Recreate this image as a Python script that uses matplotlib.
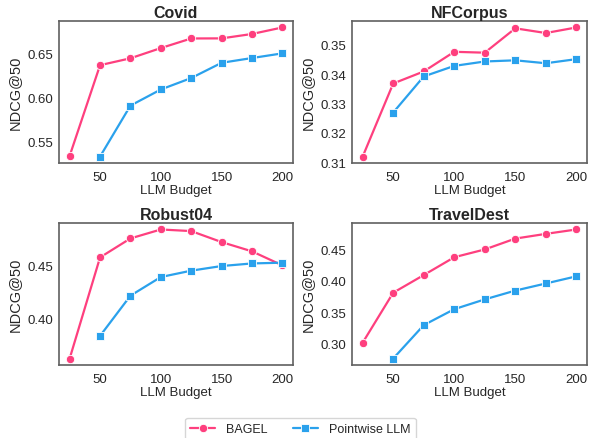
import matplotlib
matplotlib.use('Agg')
import matplotlib.pyplot as plt
import seaborn as sns

budgets_bagel = [25, 50, 75, 100, 125, 150, 175, 200]
budgets_pointwise = [50, 75, 100, 125, 150, 175, 200]

datasets = ['Covid', 'NFCorpus', 'Robust04', 'TravelDest']

bagel = {
    'Covid': [0.5337, 0.6366, 0.6444, 0.6560, 0.6669, 0.6670, 0.6720, 0.6794],
    'NFCorpus': [0.3119, 0.3368, 0.3409, 0.3476, 0.3473, 0.3556, 0.3540, 0.3559],
    'Robust04': [0.3633, 0.4571, 0.4747, 0.4830, 0.4815, 0.4713, 0.4627, 0.4497],
    'TravelDest': [0.3016, 0.3811, 0.4092, 0.4376, 0.4500, 0.4673, 0.4748, 0.4818],
}
pointwise = {
    'Covid': [0.5329, 0.5907, 0.6090, 0.6220, 0.6393, 0.6447, 0.6500],
    'NFCorpus': [0.3269, 0.3392, 0.3428, 0.3443, 0.3447, 0.3437, 0.3451],
    'Robust04': [0.3843, 0.4216, 0.4389, 0.4448, 0.4491, 0.4515, 0.4522],
    'TravelDest': [0.2763, 0.3295, 0.3549, 0.3705, 0.3845, 0.3958, 0.4072],
}

sns.set_style('white')
plt.rcParams['font.family'] = ['Liberation Sans', 'DejaVu Sans']
text_color = '#262626'

pink = '#fe3f7e'
blue = '#2aa1ec'

fig = plt.figure(figsize=(5.95, 4.39), dpi=100)
positions = [
    [0.0992, 0.6264, 0.3933, 0.3235],
    [0.5916, 0.6264, 0.3950, 0.3235],
    [0.0992, 0.1663, 0.3933, 0.3234],
    [0.5916, 0.1663, 0.3950, 0.3234],
]

for name, pos in zip(datasets, positions):
    ax = fig.add_axes(pos)
    ax.plot(budgets_bagel, bagel[name], color=pink, marker='o', markersize=6,
            markeredgecolor='white', markeredgewidth=0.6, linewidth=1.6, label='BAGEL')
    ax.plot(budgets_pointwise, pointwise[name], color=blue, marker='s', markersize=5.5,
            markeredgecolor='white', markeredgewidth=0.6, linewidth=1.6, label='Pointwise LLM')
    ax.set_title(name, fontsize=11.5, fontweight='bold', color=text_color, pad=3)
    ax.set_xlabel('LLM Budget', fontsize=9.5, color=text_color, labelpad=1)
    ax.set_ylabel('NDCG@50', fontsize=10.5, color=text_color, labelpad=4)
    ax.set_xticks([50, 100, 150, 200])
    ax.tick_params(axis='x', labelsize=9.5, colors=text_color, length=0, pad=5.5)
    ax.tick_params(axis='y', labelsize=9.5, colors=text_color, length=0, pad=4)
    for spine in ax.spines.values():
        spine.set_color('#606060')
        spine.set_linewidth(1.2)
    if name == 'Robust04':
        ax.set_yticks([0.40, 0.45])
    ax.yaxis.set_major_formatter(matplotlib.ticker.FormatStrFormatter('%.2f'))

handles, labels = ax.get_legend_handles_labels()
leg = fig.legend(handles, labels, loc='upper center', bbox_to_anchor=(0.505, 0.0456),
                 borderaxespad=0, ncol=2, fontsize=9, frameon=True, columnspacing=2.0,
                 handlelength=2.0, handletextpad=0.9)
leg.get_frame().set_edgecolor('#cccccc')
for t in leg.get_texts():
    t.set_color(text_color)

fig.savefig('out.png', dpi=100)
